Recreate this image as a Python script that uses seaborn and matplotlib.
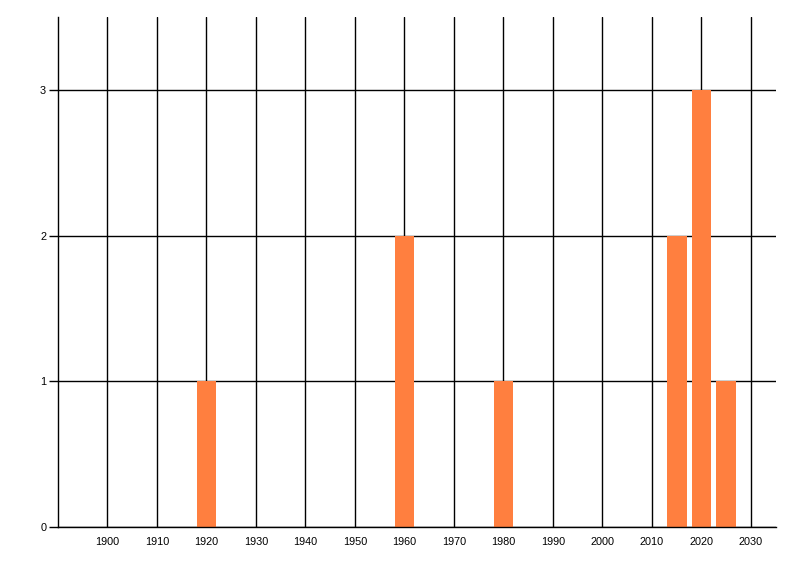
import matplotlib
matplotlib.use("Agg")
import matplotlib.pyplot as plt
import seaborn as sns
import pandas as pd

years = [1920, 1960, 1980, 2015, 2020, 2025]
counts = [1, 2, 1, 2, 3, 1]
x_ticks = list(range(1900, 2031, 10))
y_ticks = [0, 1, 2, 3]

df = pd.DataFrame({"year": years, "count": counts})

sns.set_theme(style="white")
plt.rcParams['font.family'] = ['Liberation Sans', 'DejaVu Sans']

fig = plt.figure(figsize=(8, 5.76), dpi=100)
ax = fig.add_axes([58/800, 49/576, (775.7-58)/800, (527-17)/576])
ax.set_axisbelow(True)

sns.barplot(data=df, x="year", y="count", native_scale=True, color="#FF7F3F",
            saturation=1, width=0.8, ax=ax, edgecolor="none")
for p in ax.patches:
    p.set_zorder(3)

ax.set_xlim(1890, 2035)
ax.set_ylim(0, 3.5)
ax.set_xticks(x_ticks)
ax.set_xticklabels([str(t) for t in x_ticks])
ax.set_yticks(y_ticks)
ax.set_yticklabels([str(t) for t in y_ticks])
ax.set_xlabel("")
ax.set_ylabel("")

ax.grid(True, color="black", linewidth=1.0, zorder=0)
for s in ["top", "right"]:
    ax.spines[s].set_visible(False)
for s in ["left", "bottom"]:
    ax.spines[s].set_color("black")
    ax.spines[s].set_linewidth(1.0)
    ax.spines[s].set_zorder(4)

ax.tick_params(axis="x", length=0, pad=7, labelsize=7.8, colors="black")
ax.tick_params(axis="y", length=6.5, width=1.0, pad=2, labelsize=7.8, colors="black", left=True)

fig.savefig("out.png", dpi=100)
